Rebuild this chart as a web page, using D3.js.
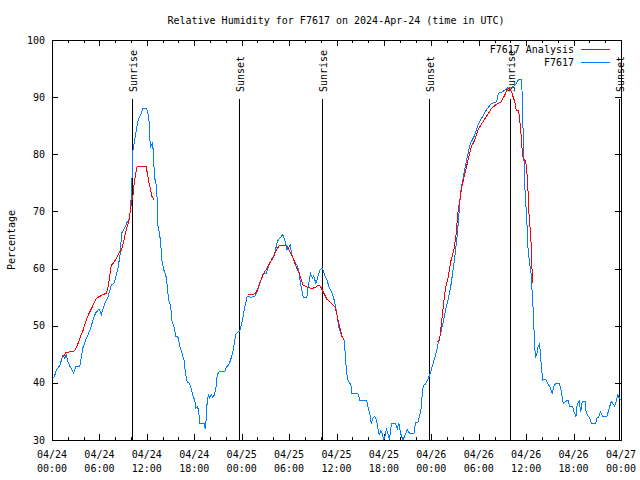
<!DOCTYPE html>
<html>
<head>
<meta charset="utf-8">
<script src="https://cdn.jsdelivr.net/npm/d3@7"></script>
<style>
  html, body { margin: 0; padding: 0; background: #fff; }
  svg { display: block; }
  text { font-family: "DejaVu Sans Mono", "Liberation Mono", monospace; font-size: 10px; fill: #000; }
</style>
</head>
<body>
<svg id="chart" width="640" height="480"></svg>
<script>
// ---------------- data ----------------
const chartTitle = "Relative Humidity for F7617 on 2024-Apr-24 (time in UTC)";
const yLabel = "Percentage";
const startTime = Date.UTC(2024, 3, 24, 0, 0);   // 04/24 00:00 UTC
const endHours = 72;
const seriesNames = ["F7617 Analysis", "F7617"];
const yTicks = [30, 40, 50, 60, 70, 80, 90, 100];

// Observed series (hours since 04/24 00:00 UTC, relative humidity %)
const obsHours = [0.0,0.3,0.55,1.0,1.4,1.6,1.8,2.0,2.3,2.75,3.0,3.5,3.9,4.35,4.8,5.2,5.5,5.95,6.25,6.7,7.1,7.5,7.9,8.35,8.65,8.8,9.2,9.5,9.8,9.95,10.1,10.15,10.25,10.6,10.9,11.3,11.5,11.95,12.25,12.35,12.45,12.6,12.75,12.85,13.0,13.2,13.35,13.4,13.6,13.75,13.9,14.2,14.4,14.6,14.75,15.0,15.2,15.45,15.65,15.95,16.2,16.45,16.7,16.9,17.1,17.4,17.65,17.85,18.05,18.2,18.4,18.55,18.7,19.25,19.4,19.5,19.65,19.8,19.95,20.15,20.35,20.55,20.8,20.9,21.2,21.85,22.1,22.35,22.6,22.85,23.1,23.25,23.5,23.75,24.1,24.4,24.7,25.2,25.65,25.95,26.3,26.7,27.1,27.45,27.75,28.2,28.5,28.8,29.2,29.45,29.75,30.0,30.15,30.35,30.7,31.0,31.25,31.45,31.65,31.8,32.25,32.45,32.7,32.95,33.1,33.4,33.65,33.95,34.2,34.5,34.8,35.05,35.35,35.65,35.9,36.1,36.3,36.6,36.95,37.1,37.25,37.4,37.65,37.8,37.95,38.7,38.95,39.8,40.0,40.2,40.4,40.6,40.85,41.05,41.25,41.4,41.6,41.8,41.95,42.1,42.3,42.5,42.7,42.95,43.45,43.7,43.9,44.1,44.4,44.7,44.95,45.25,45.8,46.0,46.3,46.5,46.75,46.85,47.0,47.25,47.5,47.8,48.1,48.35,48.65,48.9,49.2,49.5,49.8,50.1,50.45,50.75,51.05,51.3,51.5,51.7,51.9,52.2,52.55,52.95,53.4,53.9,54.35,54.95,55.6,56.25,56.5,57.05,57.5,58.2,58.6,59.05,59.45,59.5,59.7,59.8,59.95,60.1,60.25,60.45,60.65,60.8,60.95,61.05,61.2,61.35,61.5,61.7,61.8,61.95,62.1,62.3,62.5,62.7,63.0,63.3,63.55,63.8,64.2,64.45,64.7,64.9,65.3,65.5,65.85,66.05,66.3,66.45,66.7,66.9,67.1,67.45,67.6,68.05,68.25,68.8,68.95,69.2,69.4,69.7,70.2,70.45,70.75,70.95,71.2,71.45,71.6,71.8,71.95];
const obsValues = [40.8,41.1,42.2,43.1,44.9,44.3,44.9,43.7,42.8,41.7,42.8,42.8,46.1,47.8,49.2,51.0,52.2,52.9,52.0,53.9,55.1,57.1,57.5,60.1,62.7,66.2,67.1,68.1,68.8,70.8,74.3,77.6,80.75,83.7,86.0,87.2,88.1,88.1,86.6,83.7,81.1,81.7,82.0,79.0,75.8,74.6,71.1,67.6,66.2,64.5,61.5,59.5,58.9,56.8,54.5,53.6,50.7,49.8,48.1,48.0,46.3,45.2,44.0,41.7,40.2,39.9,38.75,37.6,37.0,35.6,35.8,35.25,32.9,32.9,31.9,33.5,37.0,37.9,37.4,37.9,37.4,37.9,39.6,41.4,42.0,42.0,42.8,43.1,44.0,45.2,47.2,48.5,48.9,49.0,51.0,53.3,55.1,55.0,55.1,56.0,57.4,59.05,59.2,60.6,61.5,62.7,64.7,65.3,65.9,65.0,63.25,63.8,64.1,62.4,61.2,60.6,59.45,57.4,56.0,55.0,55.0,57.1,59.2,58.3,58.7,57.4,58.6,59.9,60.05,58.9,58.0,56.8,56.0,54.8,53.3,51.6,49.7,48.4,47.5,45.2,42.25,40.6,39.9,39.8,38.2,38.2,37.0,37.0,35.6,34.7,32.9,33.8,34.1,33.5,32.0,30.9,31.6,31.1,30.0,30.4,31.9,31.1,30.0,32.9,32.9,32.0,32.9,31.2,30.0,30.9,31.9,31.1,31.1,33.0,33.0,34.1,35.8,38.2,39.6,39.8,40.5,41.4,42.8,44.0,45.45,47.2,48.7,50.7,52.75,54.5,56.8,59.75,62.95,66.2,69.7,73.2,74.9,77.25,79.6,81.9,83.1,85.1,86.3,87.75,88.9,89.2,90.7,90.95,91.5,91.7,92.1,93.1,93.1,89.2,80.2,75.2,71.4,67.9,62.95,60.9,58.9,54.5,51.6,46.3,44.6,45.0,46.3,46.9,44.9,42.5,40.5,40.6,40.5,39.9,39.3,38.2,39.6,39.9,39.9,38.5,36.4,36.6,37.0,35.9,35.9,34.95,34.1,36.1,36.8,34.95,36.8,36.8,34.7,33.8,32.9,32.9,33.8,34.1,34.95,34.1,34.1,35.25,36.7,36.4,35.9,37.0,37.9,37.3,37.0];

// Analysis series, three separate runs
const anaHours1 = [1.3,1.75,2.85,3.3,3.6,3.95,4.25,4.7,5.1,5.6,6.4,6.9,7.1,7.3,7.5,7.8,8.15,8.55,8.8,9.1,9.4,9.75,10.05,10.25,10.45,10.75,11.95,12.05,12.25,12.45,12.65,12.9];
const anaValues1 = [44.3,45.3,45.6,46.9,48.1,49.25,50.7,52.2,53.3,54.8,55.4,55.7,56.8,58.6,60.6,61.0,61.8,62.95,63.25,65.0,66.75,68.5,71.4,72.9,75.5,77.8,77.8,76.7,75.2,74.0,72.6,72.1];
const anaHours2 = [24.8,25.2,25.75,26.05,26.35,26.8,27.2,27.65,27.95,28.4,28.8,29.65,30.0,30.3,30.6,30.9,31.25,31.55,31.75,32.2,32.7,33.1,33.4,33.65,33.95,34.2,34.5,34.8,35.15,35.55,35.8,36.0,36.2,36.3,36.55,36.7,36.95];
const anaValues2 = [55.4,55.4,55.6,56.5,57.7,59.2,60.05,61.2,61.8,63.25,64.1,64.1,63.25,62.4,61.5,60.3,59.2,58.0,57.1,56.8,56.55,56.6,56.8,57.1,56.9,56.25,55.4,54.6,54.2,53.6,53.3,52.2,51.0,50.4,48.95,48.1,47.6];
const anaHours3 = [48.75,49.05,49.2,49.35,49.6,49.8,50.1,50.45,50.85,51.15,51.35,51.6,51.9,52.3,52.65,53.05,53.5,53.9,54.4,55.1,55.6,56.1,56.85,57.3,57.6,57.9,58.2,58.55,58.75,59.05,59.3,59.55,59.95,60.1,60.25,60.35,60.55,60.7,60.75,60.85];
const anaValues3 = [47.2,47.5,49.55,51.3,54.5,56.55,58.3,61.2,63.25,66.2,69.7,72.0,74.6,76.95,79.0,81.3,82.5,84.25,85.4,86.9,88.0,88.6,89.2,90.4,91.4,91.5,90.7,89.2,87.75,87.6,84.5,79.6,78.7,76.7,73.2,69.7,66.2,62.7,59.2,57.4];

// Sunrise / sunset events (hours since 04/24 00:00 UTC)
const sunLabels = ["Sunrise", "Sunset", "Sunrise", "Sunset", "Sunrise", "Sunset"];
const sunHours = [10.12, 23.66, 34.17, 47.75, 58.0, 71.8];

// ---------------- drawing ----------------
const svg = d3.select("#chart");
const M = { left: 52, right: 621, top: 40, bottom: 440 };
const toDate = h => new Date(startTime + h * 3600000);

const x = d3.scaleUtc().domain([toDate(0), toDate(endHours)]).range([M.left, M.right]);
const y = d3.scaleLinear().domain([30, 100]).range([M.bottom, M.top]);

const majorTicks = d3.range(0, endHours + 1, 6).map(toDate);
const minorTicks = d3.range(0, endHours + 1, 2).filter(h => h % 6 !== 0).map(toDate);

// title
svg.append("text").attr("x", 336).attr("y", 23.5).attr("text-anchor", "middle").text(chartTitle);

// y label
svg.append("text").attr("transform", "translate(14.5,240) rotate(-90)")
  .attr("text-anchor", "middle").text(yLabel);

const tickG = svg.append("g").attr("stroke", "#000").attr("stroke-width", 1).attr("shape-rendering", "crispEdges");
// x ticks, bottom and top (inward)
majorTicks.forEach(d => {
  const px = Math.round(x(d)) + 0.5;
  tickG.append("line").attr("x1", px).attr("x2", px).attr("y1", M.bottom).attr("y2", M.bottom - 6);
  tickG.append("line").attr("x1", px).attr("x2", px).attr("y1", M.top).attr("y2", M.top + 6);
});
minorTicks.forEach(d => {
  const px = Math.round(x(d)) + 0.5;
  tickG.append("line").attr("x1", px).attr("x2", px).attr("y1", M.bottom).attr("y2", M.bottom - 3);
  tickG.append("line").attr("x1", px).attr("x2", px).attr("y1", M.top).attr("y2", M.top + 3);
});
// y ticks, left and right
yTicks.forEach(v => {
  const py = Math.round(y(v)) + 0.5;
  tickG.append("line").attr("x1", M.left).attr("x2", M.left + 6).attr("y1", py).attr("y2", py);
  tickG.append("line").attr("x1", M.right).attr("x2", M.right - 6).attr("y1", py).attr("y2", py);
});

// x tick labels (two lines)
const fmtDay = d3.utcFormat("%m/%d"), fmtTime = d3.utcFormat("%H:%M");
majorTicks.forEach(d => {
  const t = svg.append("text").attr("text-anchor", "middle");
  t.append("tspan").attr("x", x(d)).attr("y", 458).text(fmtDay(d));
  t.append("tspan").attr("x", x(d)).attr("y", 471.5).text(fmtTime(d));
});
// y tick labels
yTicks.forEach(v => {
  svg.append("text").attr("x", 45).attr("y", y(v) + 3.5).attr("text-anchor", "end").text(v);
});

// sunrise / sunset lines and labels
sunHours.forEach((h, i) => {
  const px = Math.round(x(toDate(h))) + 0.5;
  svg.append("line").attr("x1", px).attr("x2", px).attr("y1", 99).attr("y2", M.bottom)
    .attr("stroke", "#000").attr("stroke-width", 1).attr("shape-rendering", "crispEdges");
  svg.append("text").attr("transform", `translate(${px + 4},92) rotate(-90)`)
    .attr("text-anchor", "start").text(sunLabels[i]);
});

// data lines
const line = d3.line().x(d => x(toDate(d[0]))).y(d => y(d[1]));
const obs = obsHours.map((h, i) => [h, obsValues[i]]);
svg.append("path").datum(obs).attr("d", line).attr("fill", "none")
  .attr("stroke", "#0080ff").attr("stroke-width", 1).attr("shape-rendering", "crispEdges");

[[anaHours1, anaValues1], [anaHours2, anaValues2], [anaHours3, anaValues3]].forEach(([hs, vs]) => {
  const pts = hs.map((h, i) => [h, vs[i]]);
  svg.append("path").datum(pts).attr("d", line).attr("fill", "none")
    .attr("stroke", "#ff0000").attr("stroke-width", 1).attr("shape-rendering", "crispEdges");
});

// frame
svg.append("rect").attr("x", M.left + 0.5).attr("y", M.top + 0.5)
  .attr("width", M.right - M.left).attr("height", M.bottom - M.top)
  .attr("fill", "none").attr("stroke", "#000").attr("stroke-width", 1).attr("shape-rendering", "crispEdges");

// legend
const legendColors = ["#ff0000", "#0080ff"];
seriesNames.forEach((name, i) => {
  const ly = 49.5 + i * 12.8;
  svg.append("text").attr("x", 574).attr("y", ly + 3.5).attr("text-anchor", "end").text(name);
  svg.append("line").attr("x1", 581).attr("x2", 610).attr("y1", ly).attr("y2", ly)
    .attr("stroke", legendColors[i]).attr("stroke-width", 1).attr("shape-rendering", "crispEdges");
});
</script>
</body>
</html>
